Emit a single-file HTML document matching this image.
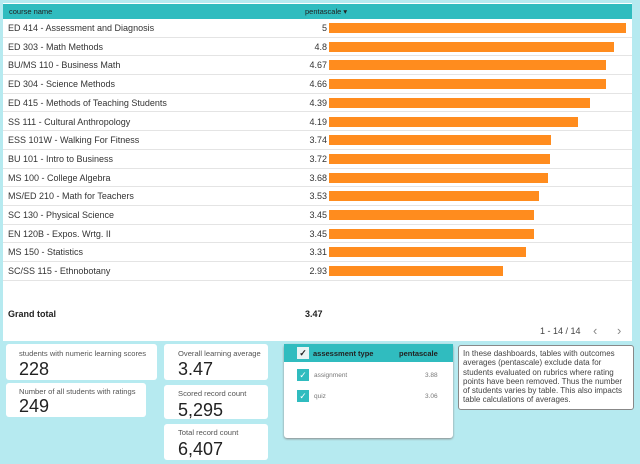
<!DOCTYPE html>
<html><head><meta charset="utf-8"><style>
body{margin:0;width:640px;height:464px;background:#b6eaf0;font-family:"Liberation Sans",sans-serif;position:relative;overflow:hidden}
.abs{position:absolute}
#tbl{left:3px;top:3px;width:629px;height:338px;background:#fff}
.hdr{left:0;top:1px;width:629px;height:15px;background:#30bcbf;font-size:7.5px;color:#222}
.row{left:0;width:629px;height:18.7px;box-sizing:border-box;border-bottom:1px solid #e4e4e4;font-size:9px;color:#333;line-height:18px}
.card{background:#fff;border-radius:3px}
.lbl{font-size:7.6px;color:#555;position:absolute;left:13px;top:5px;white-space:nowrap}
.val{font-size:18px;color:#222;position:absolute;left:13px;top:17px}
.cb{width:12px;height:12px;background:#30bcbf;color:#fff;font-size:9px;line-height:12px;text-align:center}
</style></head><body>
<div id="tbl" class="abs">
 <div class="abs hdr">
  <span class="abs" style="left:6px;top:3px">course name</span>
  <span class="abs" style="left:302px;top:3px">pentascale ▾</span>
 </div>
 <div id="rows"></div>
 <div class="abs" style="left:5px;top:306px;font-size:9px;font-weight:bold;color:#222">Grand total</div>
 <div class="abs" style="left:302px;top:306px;font-size:9px;font-weight:bold;color:#222">3.47</div>
 <div class="abs" style="left:537px;top:323px;font-size:9px;color:#444">1 - 14 / 14</div>
 <div class="abs" style="left:590px;top:320px;font-size:13px;color:#888">‹</div>
 <div class="abs" style="left:614px;top:320px;font-size:13px;color:#888">›</div>
</div>

<div class="abs card" style="left:6px;top:344px;width:151px;height:36px"><span class="lbl" style="left:13px;top:5px">students with numeric learning scores</span><span class="val" style="top:15px">228</span></div>
<div class="abs card" style="left:6px;top:383px;width:140px;height:34px"><span class="lbl" style="top:4px">Number of all students with ratings</span><span class="val" style="top:13px">249</span></div>
<div class="abs card" style="left:164px;top:344px;width:104px;height:36px"><span class="lbl" style="left:14px;top:5px">Overall learning average</span><span class="val" style="left:14px;top:15px">3.47</span></div>
<div class="abs card" style="left:164px;top:385px;width:104px;height:34px"><span class="lbl" style="left:14px;top:4px">Scored record count</span><span class="val" style="left:14px;top:15px">5,295</span></div>
<div class="abs card" style="left:164px;top:424px;width:104px;height:36px"><span class="lbl" style="left:14px;top:4px">Total record count</span><span class="val" style="left:14px;top:15px">6,407</span></div>

<div class="abs card" style="left:284px;top:344px;width:169px;height:94px;box-shadow:0 1px 2px #888">
 <div class="abs" style="left:0;top:0;width:169px;height:18px;background:#30bcbf;font-size:7.5px;font-weight:bold;color:#222">
  <div class="abs cb" style="left:13px;top:3px;background:#e8f4f4;color:#222">✓</div>
  <span class="abs" style="left:29px;top:5px">assessment type</span><span class="abs" style="left:115px;top:5px">pentascale</span></div>
 <div class="abs cb" style="left:13px;top:25px">✓</div>
 <span class="abs" style="left:30px;top:28px;font-size:6.5px;color:#777">assignment</span><span class="abs" style="left:141px;top:28px;font-size:6.5px;color:#777">3.88</span>
 <div class="abs cb" style="left:13px;top:46px">✓</div>
 <span class="abs" style="left:30px;top:49px;font-size:6.5px;color:#777">quiz</span><span class="abs" style="left:141px;top:49px;font-size:6.5px;color:#777">3.06</span>
</div>
<div class="abs" style="left:458px;top:345px;width:166px;height:57px;background:#fff;border:1px solid #888;border-radius:3px;padding:3px 4px;font-size:8px;line-height:9.3px;color:#444">In these dashboards, tables with outcomes averages (pentascale) exclude data for students evaluated on rubrics where rating points have been removed. Thus the number of students varies by table. This also impacts table calculations of averages.</div>

<script>
const courses=["ED 414 - Assessment and Diagnosis","ED 303 - Math Methods","BU/MS 110 - Business Math","ED 304 - Science Methods","ED 415 - Methods of Teaching Students","SS 111 - Cultural Anthropology","ESS 101W - Walking For Fitness","BU 101 - Intro to Business","MS 100 - College Algebra","MS/ED 210 - Math for Teachers","SC 130 - Physical Science","EN 120B - Expos. Wrtg. II","MS 150 - Statistics","SC/SS 115 - Ethnobotany"];
const scores=[5,4.8,4.67,4.66,4.39,4.19,3.74,3.72,3.68,3.53,3.45,3.45,3.31,2.93];
const labels=["5","4.8","4.67","4.66","4.39","4.19","3.74","3.72","3.68","3.53","3.45","3.45","3.31","2.93"];
const x0=326,xMax=5,w=297;
function xs(v){return v/xMax*w;}
const rows=document.getElementById('rows');
courses.forEach((c,i)=>{
 const y=16+i*18.7;
 const r=document.createElement('div');r.className='abs row';r.style.top=y+'px';
 
 
 r.innerHTML='<span class="abs" style="left:5px;top:0">'+c+'</span><span class="abs" style="right:'+(629-x0+2)+'px;top:0">'+labels[i]+'</span>';
 const b=document.createElement('div');b.className='abs';
 
 
 b.style.cssText='left:'+x0+'px;top:4px;height:10px;background:#ff8c1e;width:'+xs(scores[i])+'px';
 r.appendChild(b);rows.appendChild(r);
});
</script>
</body></html>
